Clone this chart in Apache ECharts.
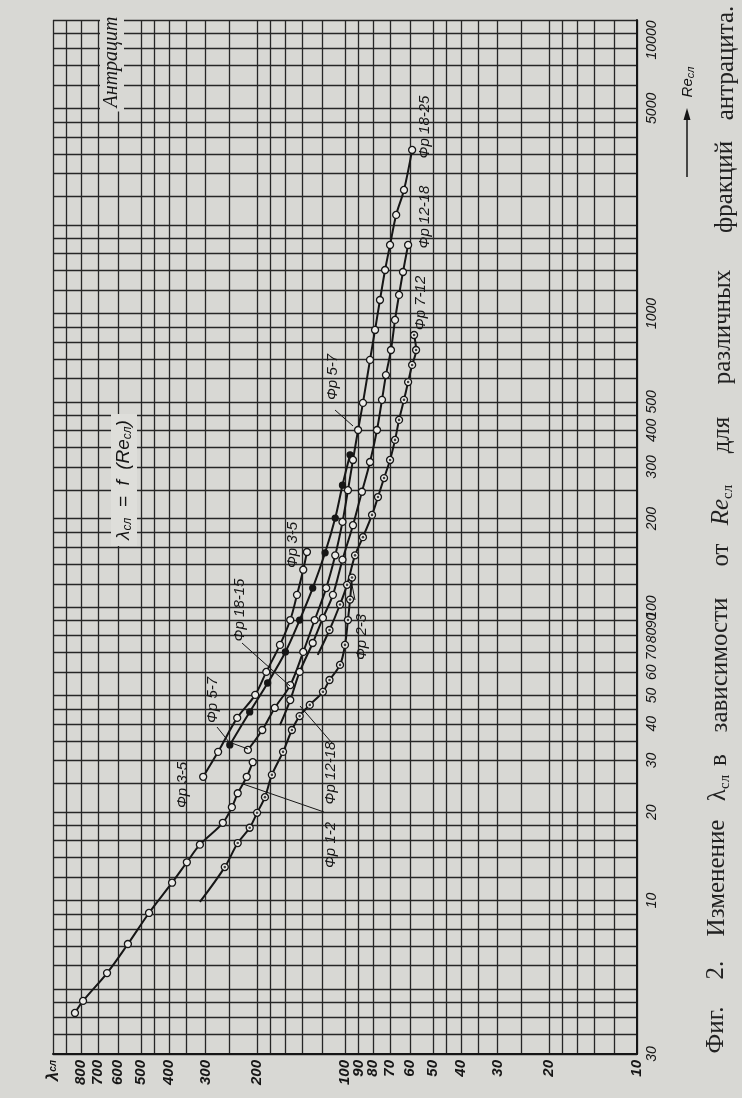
<!DOCTYPE html>
<html><head><meta charset="utf-8">
<script src="https://cdn.jsdelivr.net/npm/echarts@6/dist/echarts.min.js"></script>
<style>html,body{margin:0;padding:0;background:#d7d7d3}#c{width:742px;height:1098px}</style>
</head><body><div id="c"></div>
<script>
// ---- axis tick labels ----
const lambdaLabels = [10,20,30,40,50,60,70,80,90,100,200,300,400,500,600,700,800,1000];
const reLabels = [3,10,20,30,40,50,60,70,80,90,100,200,300,400,500,1000,5000,10000];
const gridSteps = [1,1.2,1.4,1.6,1.8,2,2.5,3,3.5,4,4.5,5,6,7,8,9];

// ---- series: [lambda_sl, Re_sl] ----
const fr1_2 = [[841,4.14],[789,4.55],[653,5.66],[554,7.11],[469,9.07],[391,11.5],[348,13.5],[314,15.5],[262,18.4],[244,20.8],[233,23.2],[217,26.4],[207,29.6]];
const fr2_3 = [[314,9.89],[258,13.0],[233,15.7],[212,17.7],[200,19.9],[188,22.5],[178,26.8],[163,32.1],[152,38.1],[143,42.5],[132,46.4],[119,51.4],[113,56.4],[104,63.5],[100,74.3],[97.7,90.3],[96.1,106],[94.6,126]];
const fr3_5 = [[306,26.4],[272,32.1],[234,41.9],[203,50.2],[186,60.1],[167,74.3],[154,90.3],[146,110],[139,134],[135,154]];
const fr5_7 = [[248,33.9],[212,43.9],[184,55.1],[160,70.3],[143,90.3],[129,116],[117,153],[108,201],[102,260],[96.1,330]];
const fr7_12 = [[124,68.7],[113,83.5],[104,102],[98.4,119],[92.4,150],[86.8,173],[80.8,206],[77.1,237],[73.5,275],[70.1,317],[67.4,371],[65.3,434],[62.8,508],[60.8,584],[58.9,668],[57.1,751],[58.0,845]];
const fr12_18 = [[167,39.6],[154,48.2],[143,60.1],[129,75.4],[119,91.8],[110,110],[102,145],[93.9,190],[87.5,247],[82.1,312],[77.7,401],[74.7,508],[72.4,617],[69.6,751],[67.4,951],[65.3,1157],[63.3,1385],[60.8,1712]];
const fr18_25 = [[215,32.6],[192,38.1],[174,45.3],[154,54.2],[139,70.3],[127,90.3],[116,116],[108,150],[102,195],[97.7,250],[93.9,317],[90.2,401],[86.8,496],[82.1,695],[78.9,879],[75.9,1112],[72.9,1407],[70.1,1712],[66.8,2167],[62.8,2636],[58.9,3608]];

const INK = '#161616', PAPER = '#d8d8d4', DOT = '#ebebe8';
function gridValues(lo, hi) {
  const out = [];
  for (let d = 1; d <= 10000; d *= 10) for (const m of gridSteps) {
    const v = +(m * d).toPrecision(6);
    if (v >= lo && v <= hi && !out.includes(v)) out.push(v);
  }
  return out;
}
const lamGrid = gridValues(10, 1000);
const reGrid = gridValues(3, 10000);

function curve(name, data, opt) {
  opt = opt || {};
  const d = data.map((p, i) => (opt.bareStart && i === 0) ? {value: p, symbol: 'none'} : p);
  return {
    type: 'line', name, data: d, smooth: 0.35, symbol: 'circle', symbolSize: opt.size || 7,
    lineStyle: {color: INK, width: 2},
    itemStyle: {color: opt.filled ? INK : DOT, borderColor: INK, borderWidth: 1.3},
    z: 5, silent: true
  };
}
function dots(data, skipFirst) {
  return {type: 'scatter', data: skipFirst ? data.slice(1) : data, symbolSize: 2.6,
    itemStyle: {color: INK}, z: 6, silent: true};
}

const LABFONT = {fontStyle: 'italic', fontFamily: 'Liberation Sans, DejaVu Sans, sans-serif', fontSize: 15, fill: INK};
function vlabel(text, x, y, extra) {
  return {type: 'text', x, y, rotation: Math.PI / 2, z: 100,
    style: Object.assign({text, align: 'center', verticalAlign: 'middle'}, LABFONT, extra || {})};
}
function leader(points) {
  return {type: 'polyline', z: 99, shape: {points}, style: {stroke: INK, lineWidth: 1, fill: null}};
}
const CAP = {fontFamily: 'Liberation Serif, DejaVu Serif, serif', fontSize: 25, fill: '#222'};
function capWord(text, y, rich) {
  const x = 716 + (1030 - y) * 0.011;
  return {type: 'text', x, y, rotation: Math.PI / 2, z: 100,
    style: Object.assign({text, align: 'center', verticalAlign: 'middle', rich}, CAP)};
}
const subRich = {
  a: {fontFamily: 'Liberation Serif, serif', fontSize: 25, fill: '#222'},
  ai: {fontFamily: 'Liberation Serif, serif', fontStyle: 'italic', fontSize: 25, fill: '#222'},
  s: {fontFamily: 'Liberation Serif, serif', fontSize: 15, fill: '#222', padding: [12, 0, 0, 0]}
};

const chart = echarts.init(document.getElementById('c'), null, {renderer: 'canvas'});
chart.setOption({
  animation: false,
  backgroundColor: PAPER,
  grid: {left: 53, right: 105, top: 20, bottom: 44, containLabel: false, outerBoundsMode: 'none'},
  xAxis: {
    type: 'log', min: 10, max: 1000, inverse: true, position: 'bottom',
    axisLine: {show: true, onZero: false, lineStyle: {color: INK, width: 2}},
    axisTick: {show: false, customValues: lamGrid},
    splitLine: {show: true, customValues: lamGrid, lineStyle: {color: '#262626', width: 1.3}},
    axisLabel: {
      customValues: lambdaLabels, rotate: 90, margin: 6, hideOverlap: false,
      color: INK, fontStyle: 'italic', fontWeight: 'bold', fontSize: 15,
      fontFamily: 'Liberation Sans, DejaVu Sans, sans-serif',
      formatter: v => v >= 999 ? '{l|λ}{s|сл}' : String(Math.round(v)),
      rich: {l: {fontSize: 17, fontStyle: 'italic', fontWeight: 'bold', color: INK},
             s: {fontSize: 10, fontStyle: 'italic', fontWeight: 'bold', color: INK}}
    }
  },
  yAxis: {
    type: 'log', min: 3, max: 10000, position: 'right',
    axisLine: {show: true, onZero: false, lineStyle: {color: INK, width: 2}},
    axisTick: {show: false, customValues: reGrid},
    splitLine: {show: true, customValues: reGrid, lineStyle: {color: '#262626', width: 1.3}},
    axisLabel: {
      customValues: reLabels, rotate: 90, margin: 8, hideOverlap: false,
      color: INK, fontStyle: 'italic', fontSize: 14,
      fontFamily: 'Liberation Sans, DejaVu Sans, sans-serif',
      formatter: v => v < 4 ? '30' : (v > 9999 ? '{top|10000}' : String(Math.round(v))),
      rich: {top: {fontStyle: 'italic', fontSize: 14, color: INK, padding: [0, 40, 0, 0]}}
    }
  },
  series: [
    curve('Фр 1-2', fr1_2),
    curve('Фр 2-3', fr2_3, {bareStart: true}), dots(fr2_3, true),
    curve('Фр 3-5', fr3_5),
    curve('Фр 5-7', fr5_7, {filled: true, size: 6}),
    curve('Фр 7-12', fr7_12, {bareStart: true}), dots(fr7_12, true),
    curve('Фр 12-18', fr12_18, {bareStart: true}),
    curve('Фр 18-25', fr18_25)
  ],
  graphic: {elements: [
    vlabel('Фр 18-25', 425, 127),
    vlabel('Фр 12-18', 425, 217),
    vlabel('Фр 7-12', 421, 303),
    vlabel('Фр 5-7', 333, 377),
    vlabel('Фр 3-5', 293, 545),
    vlabel('Фр 18-15', 240, 610),
    vlabel('Фр 5-7', 213, 700),
    vlabel('Фр 3-5', 183, 785),
    vlabel('Фр 2-3', 362, 637),
    vlabel('Фр 12-18', 331, 773),
    vlabel('Фр 1-2', 331, 845),
    leader([[335, 410], [353, 426]]),
    leader([[242, 643], [290, 686]]),
    leader([[217, 727], [229, 742], [248, 749]]),
    leader([[355, 600], [351, 580]]),
    leader([[332, 743], [300, 706]]),
    leader([[324, 812], [243, 784]]),
    // title and formula
    vlabel('Антрацит', 112, 62, {fontFamily: 'Liberation Serif, serif', fontSize: 20, backgroundColor: PAPER, padding: [2, 4]}),
    vlabel('{a|λ}{s|сл}{a|  =  f  (Re}{s|сл}{a|)}', 124, 480, {backgroundColor: '#dededa', padding: [3, 6],
      rich: {a: {fontStyle: 'italic', fontSize: 19, fontFamily: 'Liberation Sans, sans-serif', fill: INK},
             s: {fontStyle: 'italic', fontSize: 12, fontFamily: 'Liberation Sans, sans-serif', fill: INK, padding: [8, 0, 0, 0]}}}),
    // Re axis name with arrow
    {type: 'line', z: 100, shape: {x1: 687, y1: 177, x2: 687, y2: 116}, style: {stroke: INK, lineWidth: 1.5}},
    {type: 'polygon', z: 100, shape: {points: [[687, 108], [683.5, 120], [690.5, 120]]}, style: {fill: INK}},
    vlabel('{a|Re}{s|сл}', 688, 82, {rich: {a: {fontStyle: 'italic', fontSize: 15, fill: INK}, s: {fontStyle: 'italic', fontSize: 11, fill: INK, padding: [6, 0, 0, 0]}}}),
    // caption
    capWord('Фиг.', 1030), capWord('2.', 970), capWord('Изменение', 878),
    capWord('{a|λ}{s|сл}', 788, subRich), capWord('в', 760), capWord('зависимости', 665),
    capWord('от', 555), capWord('{ai|Re}{s|сл}', 505, subRich), capWord('для', 435),
    capWord('различных', 327), capWord('фракций', 187), capWord('антрацита.', 63)
  ]}
});
</script></body></html>
